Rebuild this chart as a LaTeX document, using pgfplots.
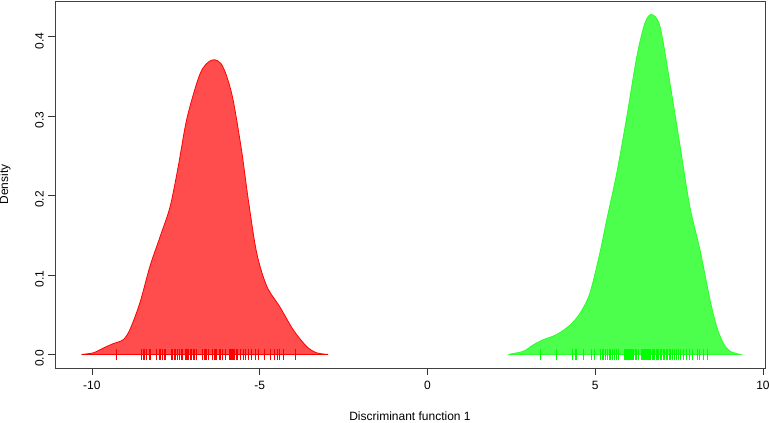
\documentclass[border=0pt]{standalone}
\usepackage{fontspec}
\setmainfont{Liberation Sans}
\usepackage{pgfplots}
\pgfplotsset{compat=1.18}
\definecolor{redfill}{RGB}{255,77,77}
\definecolor{greenfill}{RGB}{77,255,77}
\definecolor{greenline}{RGB}{40,255,40}
\begin{document}
\fontsize{12}{14}\selectfont
\begin{tikzpicture}[x=1pt,y=1pt]
\useasboundingbox (-55pt,-55pt) rectangle (714pt,368pt);
\begin{axis}[
  scale only axis, width=710pt, height=367pt,
  at={(0pt,0pt)}, anchor=south west,
  xmin=-11.1, xmax=10.06, ymin=-0.0171, ymax=0.445,
  xtick={-10,-5,0,5,10}, xticklabels={-10,-5,0,5,10},
  ytick={0,0.1,0.2,0.3,0.4}, yticklabels={0.0,0.1,0.2,0.3,0.4},
  xtick pos=lower, ytick pos=left,
  tick align=outside, major tick length=7pt,
  tick style={black!80, line width=0.6pt},
  axis line style={black!75, line width=0.8pt},
  ticklabel style={font=\fontsize{12}{14}\selectfont},
  xticklabel style={yshift=-2pt},
  yticklabel style={rotate=90, anchor=south, xshift=-4pt},
  xlabel={Discriminant function 1}, ylabel={Density},
  every axis x label/.style={at={(axis description cs:0.5,0)}, anchor=center, yshift=-48pt, font=\fontsize{12}{14}\selectfont},
  every axis y label/.style={at={(axis description cs:0,0.5)}, rotate=90, anchor=center, yshift=50pt, font=\fontsize{12}{14}\selectfont},
  clip=false,
]
% red density
\addplot[smooth, tension=0.5, draw=red, line width=0.8pt, fill=redfill] coordinates {
(-10.31,0) (-9.96,0.002) (-9.66,0.008) (-9.37,0.0135) (-9.07,0.0185) (-8.87,0.031)
(-8.57,0.065) (-8.27,0.111) (-7.97,0.148) (-7.67,0.186) (-7.43,0.236) (-7.18,0.295)
(-6.88,0.341) (-6.70,0.360) (-6.50,0.369) (-6.33,0.371) (-6.15,0.366) (-5.98,0.350) (-5.79,0.320) (-5.54,0.257)
(-5.34,0.195) (-5.09,0.128) (-4.79,0.086) (-4.40,0.060) (-4.00,0.031) (-3.60,0.010)
(-3.30,0.002) (-2.96,0)
} -- cycle;
% green density
\addplot[smooth, tension=0.5, draw=greenline, line width=0.8pt, fill=greenfill] coordinates {
(2.41,0) (2.86,0.004) (3.15,0.012) (3.45,0.0185) (3.85,0.025) (4.25,0.037) (4.55,0.052)
(4.84,0.077) (5.14,0.128) (5.34,0.169) (5.64,0.228) (5.94,0.299) (6.24,0.375) (6.48,0.417)
(6.68,0.428) (6.93,0.413) (7.23,0.341) (7.53,0.262) (7.82,0.186) (8.12,0.132) (8.42,0.069)
(8.62,0.035) (8.82,0.014) (9.02,0.004) (9.31,0)
} -- cycle;
% red rug
\addplot[only marks, mark=|, mark size=5.5pt, red, mark options={line width=0.7pt}] coordinates {
(-9.26,0) (-8.52,0) (-8.48,0) (-8.44,0) (-8.39,0) (-8.29,0) (-8.27,0) (-8.07,0) (-7.99,0)
(-7.95,0) (-7.89,0) (-7.85,0) (-7.81,0) (-7.62,0) (-7.59,0) (-7.55,0) (-7.50,0) (-7.46,0)
(-7.38,0) (-7.34,0) (-7.30,0) (-7.22,0) (-7.18,0) (-7.15,0) (-7.12,0) (-7.08,0) (-7.03,0)
(-6.98,0) (-6.94,0) (-6.89,0) (-6.70,0) (-6.66,0) (-6.62,0) (-6.58,0) (-6.52,0) (-6.40,0)
(-6.36,0) (-6.32,0) (-6.28,0) (-6.21,0) (-6.18,0) (-6.12,0) (-6.02,0) (-5.89,0) (-5.86,0)
(-5.83,0) (-5.80,0) (-5.77,0) (-5.74,0) (-5.71,0) (-5.67,0) (-5.59,0) (-5.49,0) (-5.43,0)
(-5.33,0) (-5.24,0) (-5.14,0) (-5.03,0) (-4.87,0) (-4.69,0) (-4.55,0) (-4.48,0) (-4.40,0)
(-4.30,0) (-3.95,0)
};
% green rug
\addplot[only marks, mark=|, mark size=5.5pt, green, mark options={line width=0.7pt}] coordinates {
(3.37,0) (3.85,0) (4.33,0) (4.41,0) (4.45,0) (4.64,0) (4.89,0) (4.97,0) (5.16,0) (5.20,0)
(5.24,0) (5.30,0) (5.36,0) (5.42,0) (5.46,0) (5.52,0) (5.57,0) (5.64,0) (5.70,0) (5.87,0)
(5.90,0) (5.93,0) (5.96,0) (5.99,0) (6.02,0) (6.05,0) (6.08,0) (6.12,0) (6.15,0) (6.19,0)
(6.24,0) (6.30,0) (6.38,0) (6.41,0) (6.44,0) (6.47,0) (6.50,0) (6.53,0) (6.56,0) (6.59,0)
(6.62,0) (6.65,0) (6.69,0) (6.73,0) (6.77,0) (6.81,0) (6.85,0) (6.89,0) (6.94,0) (6.98,0)
(7.03,0) (7.07,0) (7.11,0) (7.15,0) (7.20,0) (7.25,0) (7.31,0) (7.36,0) (7.43,0) (7.49,0)
(7.55,0) (7.62,0) (7.73,0) (7.80,0) (7.88,0) (8.04,0) (8.10,0) (8.22,0) (8.34,0)
};
\end{axis}
\end{tikzpicture}
\end{document}
